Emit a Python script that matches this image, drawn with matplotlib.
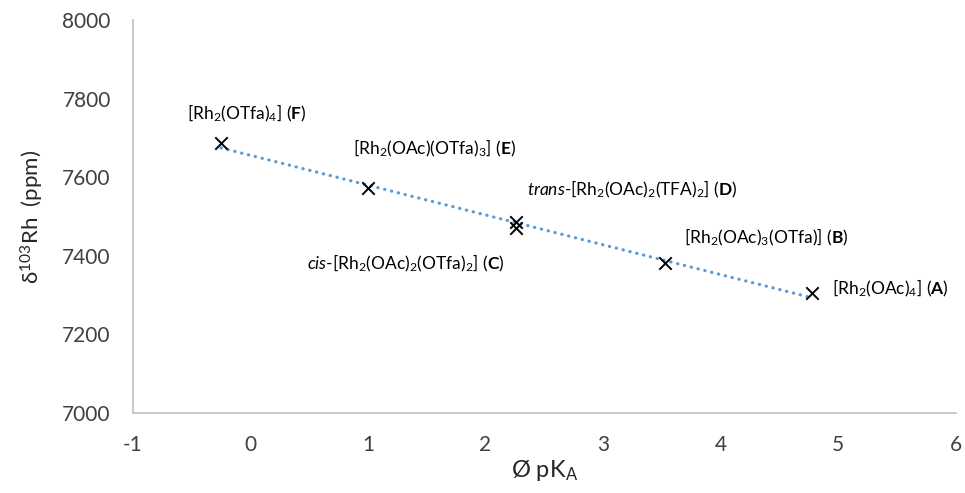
import numpy as np
import matplotlib
matplotlib.use("Agg")
import matplotlib.pyplot as plt

# data
pka = [4.78, 3.53, 2.26, 2.26, 1.0, -0.25]
shift = [7305, 7382, 7471, 7486, 7573, 7687]
names = [
    r"[Rh$_2$(OAc)$_4$] ($\mathbf{A}$)",
    r"[Rh$_2$(OAc)$_3$(OTfa)] ($\mathbf{B}$)",
    r"$\mathit{cis}$-[Rh$_2$(OAc)$_2$(OTfa)$_2$] ($\mathbf{C}$)",
    r"$\mathit{trans}$-[Rh$_2$(OAc)$_2$(TFA)$_2$] ($\mathbf{D}$)",
    r"[Rh$_2$(OAc)(OTfa)$_3$] ($\mathbf{E}$)",
    r"[Rh$_2$(OTfa)$_4$] ($\mathbf{F}$)",
]
xticks = [-1, 0, 1, 2, 3, 4, 5, 6]
yticks = [7000, 7200, 7400, 7600, 7800, 8000]

plt.rcParams["font.family"] = ["Lato", "DejaVu Sans"]
plt.rcParams["mathtext.fontset"] = "custom"
plt.rcParams["mathtext.rm"] = "Lato"
plt.rcParams["mathtext.it"] = "Lato:italic"
plt.rcParams["mathtext.bf"] = "Lato:bold"

fig = plt.figure(figsize=(9.65, 4.93), dpi=100)
ax = fig.add_axes([133 / 965, 1 - 413 / 493, (955.5 - 133) / 965, (413 - 20) / 493])

# linear trendline through all points
slope, icpt = np.polyfit(pka, shift, 1)
xs = np.array([min(pka), max(pka)])
ax.plot(xs, icpt + slope * xs, color="#5B9BD5", lw=2.3,
        linestyle=(0, (0.1, 2.1)), dash_capstyle="round", zorder=2)

ax.scatter(pka, shift, marker="x", s=80, color="black", linewidths=1.4, zorder=3)

# label offsets in pixels (text left edge, vertical centre)
offsets = [(20, 5), (19, 26), (-209, -35), (11, 33), (-15, 40), (-34, 30)]
for x, y, lab, off in zip(pka, shift, names, offsets):
    ax.annotate(lab, (x, y), xytext=off, textcoords="offset pixels",
                ha="left", va="center", fontsize=12.5, color="black")

ax.set_xlim(-1, 6)
ax.set_ylim(7000, 8000)
ax.set_xticks(xticks)
ax.set_yticks(yticks)
ax.set_xticklabels([str(t) for t in xticks])
ax.tick_params(length=0, labelsize=15, colors="#404040")
ax.tick_params(axis="x", pad=16)
ax.tick_params(axis="y", pad=16)

for s in ["top", "right"]:
    ax.spines[s].set_visible(False)
for s in ["left", "bottom"]:
    ax.spines[s].set_color("#BFBFBF")
    ax.spines[s].set_linewidth(1.2)

ax.set_ylabel(r"δ$^{103}$Rh  (ppm)", fontsize=16, color="#262626", labelpad=12)
ax.set_xlabel(r"Ø pK$_\mathrm{A}$", fontsize=17, color="#262626", labelpad=2)

fig.savefig("out.png", dpi=100)
